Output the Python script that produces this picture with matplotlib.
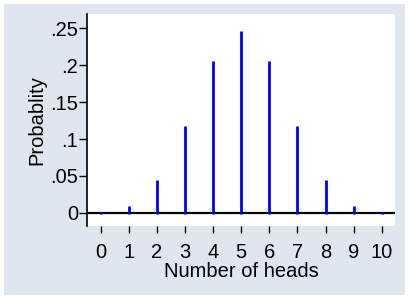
import matplotlib.pyplot as plt
from matplotlib.patches import Rectangle

heads = [0, 1, 2, 3, 4, 5, 6, 7, 8, 9, 10]
probability = [0.001, 0.0098, 0.044, 0.117, 0.205, 0.246, 0.205, 0.117, 0.044, 0.0098, 0.001]
y_ticks = [0, 0.05, 0.1, 0.15, 0.2, 0.25]
y_tick_labels = ["0", ".05", ".1", ".15", ".2", ".25"]

W, H = 409, 299
bg = "#e0e6f0"
fs = 14.5

plt.rcParams["font.family"] = ["Liberation Sans", "DejaVu Sans"]

fig = plt.figure(figsize=(W / 100, H / 100), dpi=100, facecolor="white")
fig.patches.append(Rectangle((4 / W, 4 / H), 401 / W, 291 / H,
                             transform=fig.transFigure, facecolor=bg,
                             edgecolor="none", zorder=-10))

ax = fig.add_axes([87 / W, (H - 226) / H, (395 - 87) / W, (226 - 14) / H])
ax.set_zorder(5)
ax.set_facecolor("white")

ax.axhline(0, color="black", linewidth=1.6, zorder=3)
# spikes start slightly under the zero line so the tiny ones still show
ax.vlines(heads, -0.0012, probability, colors="#0000ff", linewidth=2, zorder=4)

ax.set_xlim(-0.48, 10.47)
ax.set_ylim(-0.0176, 0.269)
ax.set_xticks(heads)
ax.set_yticks(y_ticks)
ax.set_yticklabels(y_tick_labels)

for side in ["top", "right", "bottom"]:
    ax.spines[side].set_visible(False)
ax.spines["left"].set_linewidth(1.2)

ax.tick_params(axis="y", length=5.5, width=1, pad=1, labelsize=fs)
ax.tick_params(axis="x", length=5, width=1, pad=7, labelsize=fs)

ax.set_xlabel("Number of heads", fontsize=fs, labelpad=0)
ax.set_ylabel("Probablity", fontsize=fs, labelpad=3)

plt.savefig("out.png", dpi=100, facecolor="white")
